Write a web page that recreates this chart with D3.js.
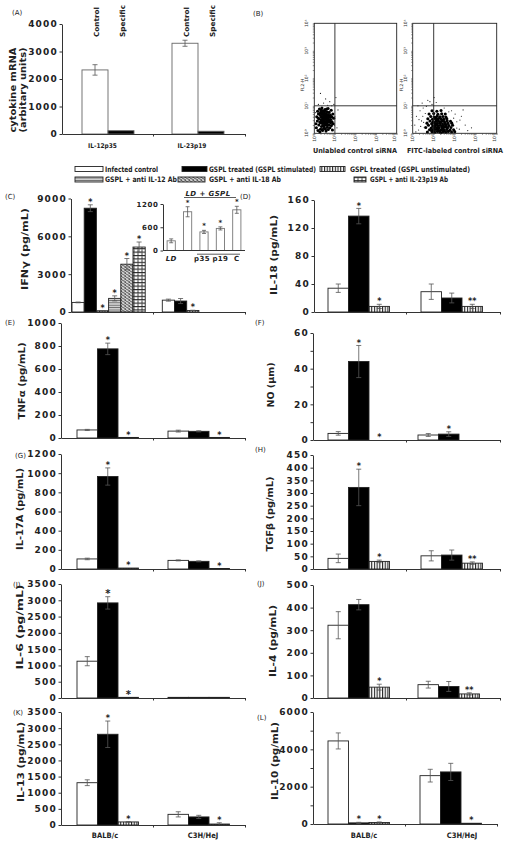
<!DOCTYPE html>
<html><head><meta charset="utf-8">
<script src="https://cdn.jsdelivr.net/npm/d3@7/dist/d3.min.js"></script>
<style>
html,body{margin:0;padding:0;background:#fff;}
svg{display:block;}
</style></head>
<body>
<svg id="fig" width="512" height="847" xmlns="http://www.w3.org/2000/svg"></svg>
<script>
// ================= DATA =================
const mrnaCategories = ["IL-12p35","IL-23p19"];
const mrnaSeries = ["Control","Specific"];
const mrnaValues = [[2330,120],[3300,100]];
const mrnaErrors = [[190,0],[110,0]];
const mrnaTicks = [0,1000,2000,3000,4000];

const flowLabels = ["Unlabled control siRNA","FITC-labeled control siRNA"];
const flowDecades = ["10⁰","10¹","10²","10³","10⁴"];
// [log10 FL1, log10 FL2] per event (dense population)
const flowUnlabeled = [
 [0.08,0.35],[0.10,0.20],[0.12,0.60],[0.15,0.45],[0.16,0.80],[0.18,0.10],[0.20,0.70],[0.22,0.30],[0.24,0.52],[0.25,0.88],
 [0.27,0.05],[0.28,0.40],[0.30,0.15],[0.30,0.65],[0.32,0.78],[0.33,0.48],[0.35,0.25],[0.35,0.58],[0.37,0.92],[0.38,0.70],
 [0.39,0.36],[0.40,0.10],[0.41,0.50],[0.42,0.62],[0.43,0.82],[0.44,0.28],[0.45,0.44],[0.46,0.56],[0.47,0.72],[0.48,0.18],
 [0.49,0.38],[0.50,0.64],[0.51,0.50],[0.52,0.86],[0.53,0.30],[0.54,0.58],[0.55,0.42],[0.56,0.70],[0.57,0.08],[0.58,0.52],
 [0.59,0.62],[0.60,0.34],[0.61,0.78],[0.62,0.46],[0.63,0.22],[0.64,0.56],[0.65,0.68],[0.66,0.40],[0.67,0.90],[0.68,0.14],
 [0.69,0.50],[0.70,0.62],[0.71,0.30],[0.72,0.76],[0.74,0.44],[0.75,0.58],[0.76,0.20],[0.78,0.66],[0.79,0.38],[0.80,0.50],
 [0.82,0.84],[0.83,0.28],[0.85,0.60],[0.86,0.42],[0.88,0.12],[0.90,0.70],[0.92,0.35],[0.94,0.55],
 [0.36,0.46],[0.44,0.54],[0.52,0.40],[0.58,0.60],[0.48,0.66],[0.62,0.52],[0.40,0.74],[0.56,0.32],[0.66,0.58],[0.46,0.26],
 [0.20,0.55],[0.26,0.72],[0.34,0.85],[0.50,0.78],[0.60,0.88],[0.70,0.42],[0.54,0.16],[0.38,0.14],[0.30,0.38],[0.64,0.30]
];
// sparse events
const flowUnlabeledSparse = [
 [0.20,1.05],[0.45,1.10],[0.55,1.25],[0.75,1.15],[0.95,1.05],[1.05,1.30],[0.30,1.45],[1.00,0.60],[1.10,0.20],[0.85,1.00],
 [0.65,1.02],[1.15,0.85],[0.05,0.75],[0.98,0.30]
];
const flowFitc = [
 [0.70,0.05],[0.92,0.06],[1.05,0.04],[1.18,0.07],[1.30,0.05],[1.45,0.06],[1.58,0.04],[1.70,0.07],[1.85,0.05],[2.00,0.06],
 [0.80,0.13],[0.98,0.11],[1.10,0.14],[1.22,0.12],[1.36,0.13],[1.50,0.11],[1.62,0.14],[1.78,0.12],[1.95,0.13],
 [0.62,0.21],[0.88,0.19],[1.02,0.22],[1.14,0.20],[1.26,0.21],[1.40,0.19],[1.52,0.22],[1.66,0.20],[1.82,0.21],
 [0.75,0.29],[0.95,0.27],[1.08,0.30],[1.20,0.28],[1.32,0.29],[1.46,0.27],[1.58,0.30],[1.72,0.28],[1.90,0.29],
 [0.68,0.37],[0.90,0.35],[1.04,0.38],[1.16,0.36],[1.28,0.37],[1.42,0.35],[1.55,0.38],[1.68,0.36],[1.86,0.37],
 [0.82,0.45],[0.98,0.43],[1.12,0.46],[1.24,0.44],[1.38,0.45],[1.50,0.43],[1.64,0.46],[1.80,0.44],
 [0.72,0.53],[0.94,0.51],[1.06,0.54],[1.20,0.52],[1.34,0.53],[1.48,0.51],[1.62,0.54],
 [0.86,0.61],[1.02,0.59],[1.16,0.62],[1.30,0.60],[1.44,0.61],[1.58,0.59],
 [0.78,0.70],[1.00,0.72],[1.20,0.69],[1.38,0.71],[1.55,0.70],
 [0.92,0.82],[1.15,0.80],[1.35,0.83],
 [1.00,0.16],[1.12,0.33],[1.25,0.09],[1.33,0.41],[1.44,0.17],[1.18,0.48],[1.06,0.26],[1.39,0.25],[1.28,0.56],[1.54,0.33],
 [0.96,0.40],[1.22,0.18],[1.48,0.09],[1.10,0.57],[1.35,0.02],[1.60,0.24],[0.90,0.10],[1.42,0.48]
];
const flowFitcSparse = [
 [0.10,0.30],[0.18,0.62],[0.28,0.12],[0.35,0.82],[0.42,0.45],[0.50,0.92],[0.55,0.22],[0.60,0.72],[0.45,1.10],[0.25,1.00],
 [0.72,1.20],[0.92,1.05],[1.02,1.30],[0.82,1.15],[1.50,0.92],[1.72,0.78],[2.10,0.42],[2.22,0.15],[2.32,0.62],[2.50,0.30],
 [2.62,0.10],[2.02,0.70],[1.95,0.55],[2.40,0.85],[0.15,0.05],[0.65,0.98],[1.12,1.12],[0.38,0.25],[0.48,0.62],[2.80,0.20],
 [2.10,0.19],[0.30,0.50],[0.52,0.40],[2.25,0.48],[1.85,0.82]
];

const strains = ["BALB/c","C3H/HeJ"];
const treatments = ["Infected control","GSPL treated (GSPL stimulated)","GSPL treated (GSPL unstimulated)",
                    "GSPL + anti IL-12 Ab","GSPL + anti IL-18 Ab","GSPL + anti IL-23p19 Ab"];

const ifngValues = [[760,8230,100,1080,3790,5150],[940,870,120]];
const ifngErrors = [[30,270,20,200,450,400],[80,200,20]];
const ifngStars  = [["","*","*","*","*","*"],["","","*"]];
const ifngTicks  = [0,3000,6000,9000];

const insetCategories = ["LD","LD + GSPL","p35","p19","C"];
const insetLabels = ["LD","","p35","p19","C"];
const insetValues = [250,1000,480,570,1050];
const insetErrors = [50,130,40,40,90];
const insetStars  = ["","*","*","*","*"];
const insetTicks  = [0,600,1200];

const il18Values = [[34,137,8],[29,20,8]];
const il18Errors = [[6,11,3],[11,7,3]];
const il18Stars  = [["","*","*"],["","","**"]];
const il18Ticks  = [0,40,80,120,160];

const tnfValues = [[70,775,5],[60,58,5]];
const tnfErrors = [[5,50,0],[8,5,0]];
const tnfStars  = [["","*","*"],["","","*"]];
const tnfTicks  = [0,200,400,600,800,1000];

const noValues = [[3.7,44,0],[2.8,3.3,null]];
const noErrors = [[1,9,0],[0.8,1.3,0]];
const noStars  = [["","*","*"],["","*",""]];
const noTicks  = [0,20,40,60];

const il17Values = [[105,965,10],[90,80,5]];
const il17Errors = [[8,90,0],[5,5,0]];
const il17Stars  = [["","*","*"],["","","*"]];
const il17Ticks  = [0,200,400,600,800,1000,1200];

const tgfValues = [[42,322,30],[52,55,23]];
const tgfErrors = [[17,72,5],[20,20,5]];
const tgfStars  = [["","*","*"],["","","**"]];
const tgfTicks  = [0,50,100,150,200,250,300,350,400,450];

const il6Values = [[1130,2920,20],[20,20,20]];
const il6Errors = [[140,190,0],[0,0,0]];
const il6Stars  = [["","*","*"],["","",""]];
const il6Ticks  = [0,500,1000,1500,2000,2500,3000,3500];

const il4Values = [[322,413,48],[59,51,18]];
const il4Errors = [[60,23,13],[15,22,5]];
const il4Stars  = [["","","*"],["","","**"]];
const il4Ticks  = [0,100,200,300,400,500];

const il13Values = [[1310,2810,95],[330,250,30]];
const il13Errors = [[90,410,10],[80,50,40]];
const il13Stars  = [["","*","*"],["","","*"]];
const il13Ticks  = [0,500,1000,1500,2000,2500,3000,3500];

const il10Values = [[4450,60,80],[2590,2790,40]];
const il10Errors = [[430,30,30],[340,460,0]];
const il10Stars  = [["","*","*"],["","","*"]];
const il10Ticks  = [0,2000,4000,6000];

// ================= DRAWING =================
const svg = d3.select("#fig");
const FONT = "'DejaVu Sans', Verdana, sans-serif";
const NARROW = "'Liberation Sans Narrow','DejaVu Sans Condensed','Liberation Sans', Arial, sans-serif";
const defs = svg.append("defs");
function pattern(id, w, h, draw){
  const p = defs.append("pattern").attr("id",id).attr("patternUnits","userSpaceOnUse").attr("width",w).attr("height",h);
  draw(p, w, h);
}
pattern("vstripe",2.7,4,(p,w,h)=>{
  p.append("rect").attr("width",w).attr("height",h).attr("fill","#fff");
  p.append("rect").attr("width",1.1).attr("height",h).attr("fill","#222");
});
pattern("hgray",4,2.4,(p,w,h)=>{
  p.append("rect").attr("width",w).attr("height",h).attr("fill","#cfcfcf");
  p.append("rect").attr("width",w).attr("height",0.8).attr("fill","#666");
});
pattern("diag",4,3,(p,w,h)=>{
  p.append("rect").attr("width",w).attr("height",h).attr("fill","#fff");
  p.append("path").attr("d","M0,3 L4,1 M0,1.2 L4,-0.8 M0,4.8 L4,2.8").attr("stroke","#222").attr("stroke-width",0.8);
});
pattern("cross",4,3.4,(p,w,h)=>{
  p.append("rect").attr("width",w).attr("height",h).attr("fill","#fff");
  p.append("rect").attr("y",0).attr("width",w).attr("height",1.1).attr("fill","#222");
  p.append("rect").attr("x",1.5).attr("y",1.1).attr("width",1).attr("height",2.3).attr("fill","#444");
});
const fills = ["#fff","#000","url(#vstripe)","url(#hgray)","url(#diag)","url(#cross)"];

function styleAxis(sel, size, spacing){
  sel.attr("font-family",null).attr("font-size",null);
  sel.selectAll("text").attr("font-family",FONT).attr("font-weight","bold")
     .attr("font-size",size).attr("letter-spacing",spacing).attr("fill","#222");
  sel.selectAll("line").attr("stroke","#333");
  sel.select(".domain").attr("stroke","#333");
}
function panelLabel(txt, x, y){
  svg.append("text").attr("x",x).attr("y",y).attr("font-family",FONT).attr("font-size",7)
    .attr("fill","#222").text(txt);
}
function rotText(txt, cx, cy, size, len){
  return svg.append("text").attr("transform",`translate(${cx},${cy}) rotate(-90)`)
    .attr("text-anchor","middle").attr("dominant-baseline","central")
    .attr("font-family",FONT).attr("font-weight","bold").attr("font-size",size).attr("fill","#222")
    .attr("textLength",len).attr("lengthAdjust","spacingAndGlyphs").text(txt);
}

function barPanel(p){
  const g = svg.append("g");
  const y = d3.scaleLinear().domain([0,p.max]).range([p.y0,p.yTop]);
  const x = d3.scaleLinear().domain([0,1,2]).range([p.x0,p.xMid,p.x1]);
  const nSeries = p.fills ? p.fills.length : 6;
  const sub = d3.scaleBand().domain(d3.range(nSeries)).range([0,nSeries*p.barW]);
  const fl = p.fills || fills;
  p.values.forEach((vals,gi)=>{
    const gx = x(gi)+p.offsets[gi];
    const data = vals.map((v,i)=>({v,i,e:p.errors[gi][i],s:p.stars?p.stars[gi][i]:""})).filter(d=>d.v!=null);
    const gg = g.append("g").attr("transform",`translate(${gx},0)`);
    gg.selectAll("rect").data(data).join("rect")
      .attr("x",d=>sub(d.i)).attr("width",sub.bandwidth())
      .attr("y",d=>y(d.v)).attr("height",d=>p.y0-y(d.v))
      .attr("fill",d=>fl[d.i]).attr("stroke",p.barStroke||"#222").attr("stroke-width",0.9);
    const cx = d=>sub(d.i)+sub.bandwidth()/2;
    const eb = data.filter(d=>d.e>0);
    gg.selectAll("line.ev").data(eb).join("line").attr("class","ev")
      .attr("x1",cx).attr("x2",cx).attr("y1",d=>y(Math.max(0,d.v-d.e))).attr("y2",d=>y(d.v+d.e))
      .attr("stroke","#555").attr("stroke-width",0.8);
    gg.selectAll("line.et").data(eb).join("line").attr("class","et")
      .attr("x1",d=>cx(d)-2.5).attr("x2",d=>cx(d)+2.5).attr("y1",d=>y(d.v+d.e)).attr("y2",d=>y(d.v+d.e))
      .attr("stroke","#555").attr("stroke-width",0.8);
    gg.selectAll("line.eb").data(eb.filter(d=>d.v-d.e>0)).join("line").attr("class","eb")
      .attr("x1",d=>cx(d)-2.5).attr("x2",d=>cx(d)+2.5).attr("y1",d=>y(d.v-d.e)).attr("y2",d=>y(d.v-d.e))
      .attr("stroke","#555").attr("stroke-width",0.8);
    gg.selectAll("text.star").data(data.filter(d=>d.s)).join("text").attr("class","star")
      .attr("x",cx).attr("y",d=>y(d.v+d.e)+ (p.starSize||8)*0.2 - 1.5)
      .attr("text-anchor","middle").attr("font-family",FONT).attr("font-weight","bold")
      .attr("font-size",p.starSize||8).attr("fill","#222").text(d=>d.s);
  });
  const ya = g.append("g").attr("transform",`translate(${p.x0},0)`)
    .call(d3.axisLeft(y).tickValues(p.ticks).tickSize(2.5).tickSizeOuter(0).tickPadding(p.tickPad||1.5).tickFormat(d=>d));
  styleAxis(ya, p.tickFont||9, p.tickSpacing!=null?p.tickSpacing:1.2);
  if (p.minor){
    g.append("g").attr("transform",`translate(${p.x0},0)`)
      .call(d3.axisLeft(y).tickValues(p.minor).tickSize(2.5).tickFormat(""))
      .call(s=>{s.select(".domain").remove(); s.selectAll("line").attr("stroke","#333");});
  }
  const xa = g.append("g").attr("transform",`translate(0,${p.y0})`)
    .call(d3.axisBottom(x).tickValues([1,2]).tickSize(2.5).tickSizeOuter(0).tickFormat(""));
  styleAxis(xa, 8, 0);
  if (p.catLabels){
    g.selectAll("text.cat").data(p.catLabels).join("text").attr("class","cat")
      .attr("x",(d,i)=>x(i+0.5)+(p.catShift?p.catShift[i]:0)).attr("y",p.y0+(p.catDy||14))
      .attr("text-anchor","middle").attr("font-family",NARROW).attr("font-weight","bold")
      .attr("font-size",p.catFont||7.5).attr("fill","#222").text(d=>d);
  }
  if (p.title) rotText(p.title, p.titleX, p.titleY, 9, p.titleLen);
  return {x,y,sub};
}

// ---------- Panel A ----------
panelLabel("(A)", 12, 15);
const pA = barPanel({values:mrnaValues, errors:mrnaErrors, stars:null, max:4000, ticks:mrnaTicks,
  x0:62, xMid:153, x1:245, y0:134, yTop:24, barW:26, offsets:[20,19], fills:["#fff","#000"], barStroke:"#666",
  catLabels:mrnaCategories, catShift:[-5,-7], catDy:14, catFont:6.5});
mrnaCategories.forEach((c,gi)=>{
  mrnaSeries.forEach((s,si)=>{
    const cx = pA.x(gi)+[20,19][gi]+pA.sub(si)+pA.sub.bandwidth()/2+2;
    svg.append("text").attr("transform",`translate(${cx},37) rotate(-90)`)
      .attr("dominant-baseline","central").attr("font-family",FONT).attr("font-weight","bold")
      .attr("font-size",7).attr("fill","#222")
      .attr("textLength",s==="Control"?30:32).attr("lengthAdjust","spacingAndGlyphs").text(s);
  });
});
rotText("cytokine mRNA", 13, 90, 9, 85);
rotText("(arbitary units)", 22.5, 90, 9, 85);

// ---------- Panel B (flow cytometry) ----------
panelLabel("(B)", 253, 16);
function flowPlot(points, sparse, x0, x1, label, labelX, labelLen){
  const g = svg.append("g");
  const x = d3.scaleLog().domain([1,1e4]).range([x0,x1]);
  const y = d3.scaleLog().domain([1,1e4]).range([133.3,23.3]);
  g.selectAll("circle.core").data(points).join("circle").attr("class","core")
    .attr("cx",d=>x(Math.pow(10,d[0]))).attr("cy",d=>y(Math.pow(10,d[1])))
    .attr("r",1.55).attr("fill","#000");
  g.selectAll("circle.sp").data(sparse).join("circle").attr("class","sp")
    .attr("cx",d=>x(Math.pow(10,d[0]))).attr("cy",d=>y(Math.pow(10,d[1])))
    .attr("r",0.6).attr("fill","#222");
  g.append("rect").attr("x",x0).attr("y",23.3).attr("width",x1-x0).attr("height",110)
    .attr("fill","none").attr("stroke","#222").attr("stroke-width",0.9);
  g.append("line").attr("x1",x(10)).attr("x2",x(10)).attr("y1",23.3).attr("y2",133.3).attr("stroke","#222").attr("stroke-width",0.9);
  g.append("line").attr("x1",x0).attr("x2",x1).attr("y1",y(10)).attr("y2",y(10)).attr("stroke","#222").attr("stroke-width",0.9);
  const minor = [];
  for (let e=0;e<4;e++) for (let k=1;k<10;k++) minor.push(k*Math.pow(10,e));
  minor.push(1e4);
  g.append("g").attr("transform",`translate(${x0},0)`).call(d3.axisLeft(y).tickValues(minor).tickSize(1.5).tickFormat(""))
    .call(s=>{s.select(".domain").remove(); s.selectAll("line").attr("stroke","#444").attr("stroke-width",0.6);});
  g.append("g").attr("transform",`translate(0,133.3)`).call(d3.axisBottom(x).tickValues(minor).tickSize(1.5).tickFormat(""))
    .call(s=>{s.select(".domain").remove(); s.selectAll("line").attr("stroke","#444").attr("stroke-width",0.6);});
  const dec = [1,10,100,1000,10000];
  g.selectAll("text.yl").data(dec).join("text").attr("class","yl")
    .attr("transform",d=>`translate(${x0-6},${y(d)}) rotate(-90)`).attr("text-anchor","middle")
    .attr("font-family",FONT).attr("font-size",4.5).attr("fill","#333").text((d,i)=>flowDecades[i]);
  g.selectAll("text.xl").data(dec).join("text").attr("class","xl")
    .attr("transform",d=>`translate(${Math.min(x(d)+1.5,x1-1)},${138}) rotate(-90)`).attr("text-anchor","middle")
    .attr("font-family",FONT).attr("font-size",4.5).attr("fill","#333").text((d,i)=>flowDecades[i]);
  g.append("text").attr("transform",`translate(${x0-10},85) rotate(-90)`).attr("text-anchor","middle")
    .attr("font-family",FONT).attr("font-size",4.5).attr("fill","#333").text("FL2-H");
  g.append("text").attr("x",labelX).attr("y",153).attr("text-anchor","middle")
    .attr("font-family",NARROW).attr("font-weight","bold").attr("font-size",7).attr("fill","#222")
    .attr("textLength",labelLen).attr("lengthAdjust","spacingAndGlyphs").text(label);
}
flowPlot(flowUnlabeled, flowUnlabeledSparse, 314.3, 396.7, flowLabels[0], 355, 84);
flowPlot(flowFitc, flowFitcSparse, 412.7, 496.7, flowLabels[1], 455, 96);

// ---------- Legend ----------
const legendLayout = [
  {x:75,y:166.5,w:28,tx:105,tl:53},{x:182,y:166.5,w:25,tx:209,tl:107},{x:320,y:166.5,w:25,tx:350,tl:120},
  {x:75,y:177,w:28,tx:105,tl:72},{x:178,y:177,w:27,tx:209,tl:72},{x:354,y:177,w:12,tx:370,tl:78}
];
const lg = svg.append("g");
lg.selectAll("rect").data(treatments).join("rect")
  .attr("x",(d,i)=>legendLayout[i].x).attr("y",(d,i)=>legendLayout[i].y)
  .attr("width",(d,i)=>legendLayout[i].w).attr("height",5)
  .attr("fill",(d,i)=>fills[i]).attr("stroke","#222").attr("stroke-width",0.9);
lg.selectAll("text").data(treatments).join("text")
  .attr("x",(d,i)=>legendLayout[i].tx).attr("y",(d,i)=>legendLayout[i].y+5.3)
  .attr("font-family",NARROW).attr("font-weight","bold").attr("font-size",7.5).attr("fill","#222")
  .attr("textLength",(d,i)=>legendLayout[i].tl).attr("lengthAdjust","spacingAndGlyphs").text(d=>d);

// ---------- Cytokine panels ----------
const L = {x0:61,xMid:153,x1:245,barW:20.5};
const R = {x0:313,xMid:406,x1:500,barW:20.5};
panelLabel("(C)", 5, 199);
barPanel({values:ifngValues, errors:ifngErrors, stars:ifngStars, max:9000, ticks:ifngTicks,
  x0:71, xMid:153, x1:245, y0:312, yTop:198.5, barW:12.2, offsets:[1,9.3],
  title:"IFNγ (pg/mL)", titleX:25, titleY:249, titleLen:82});
(function(){
  const g = svg.append("g");
  const x = d3.scaleBand().domain(insetCategories).range([163,245]).paddingInner(0.5).paddingOuter(0.25);
  const y = d3.scaleLinear().domain([0,1200]).range([250.5,204]);
  const data = insetCategories.map((c,i)=>({c,v:insetValues[i],e:insetErrors[i],s:insetStars[i],l:insetLabels[i]}));
  g.selectAll("rect").data(data).join("rect").attr("x",d=>x(d.c)).attr("width",x.bandwidth())
    .attr("y",d=>y(d.v)).attr("height",d=>250.5-y(d.v)).attr("fill","#fff").attr("stroke","#777").attr("stroke-width",0.9);
  const cx = d=>x(d.c)+x.bandwidth()/2;
  g.selectAll("line.ev").data(data).join("line").attr("class","ev").attr("x1",cx).attr("x2",cx)
    .attr("y1",d=>y(d.v-d.e)).attr("y2",d=>y(d.v+d.e)).attr("stroke","#555").attr("stroke-width",0.8);
  g.selectAll("line.et").data(data).join("line").attr("class","et").attr("x1",d=>cx(d)-2).attr("x2",d=>cx(d)+2)
    .attr("y1",d=>y(d.v+d.e)).attr("y2",d=>y(d.v+d.e)).attr("stroke","#555").attr("stroke-width",0.8);
  g.selectAll("line.eb").data(data).join("line").attr("class","eb").attr("x1",d=>cx(d)-2).attr("x2",d=>cx(d)+2)
    .attr("y1",d=>y(d.v-d.e)).attr("y2",d=>y(d.v-d.e)).attr("stroke","#555").attr("stroke-width",0.8);
  g.selectAll("text.star").data(data.filter(d=>d.s)).join("text").attr("class","star")
    .attr("x",cx).attr("y",d=>Math.max(y(d.v+d.e)-2,201.5)).attr("text-anchor","middle")
    .attr("font-family",FONT).attr("font-weight","bold").attr("font-size",7).attr("fill","#222").text(d=>d.s);
  const ya = g.append("g").attr("transform","translate(163,0)")
    .call(d3.axisLeft(y).tickValues(insetTicks).tickSize(2.5).tickSizeOuter(0).tickPadding(2).tickFormat(d=>d));
  styleAxis(ya, 7, 0.6);
  g.append("line").attr("x1",163).attr("x2",245).attr("y1",250.5).attr("y2",250.5).attr("stroke","#333");
  g.append("line").attr("x1",197).attr("x2",240).attr("y1",254.2).attr("y2",254.2).attr("stroke","#333").attr("stroke-width",0.8);
  g.selectAll("text.lab").data(data.filter(d=>d.l)).join("text").attr("class","lab")
    .attr("x",d=>cx(d)+(d.l==="p35"?-2:0)).attr("y",261).attr("text-anchor","middle")
    .attr("font-family",FONT).attr("font-weight","bold").attr("font-size",7)
    .attr("font-style",d=>d.l==="LD"?"italic":"normal").attr("letter-spacing",0.4).attr("fill","#222").text(d=>d.l);
  g.append("text").attr("x",208).attr("y",195.5).attr("text-anchor","middle").attr("font-family",FONT)
    .attr("font-weight","bold").attr("font-style","italic").attr("font-size",7).attr("letter-spacing",0.4)
    .attr("fill","#222").text(insetCategories[1]);
  g.append("line").attr("x1",184).attr("x2",236).attr("y1",197.5).attr("y2",197.5).attr("stroke","#333").attr("stroke-width",0.8);
})();

panelLabel("(D)", 240, 199);
barPanel({...R, values:il18Values, errors:il18Errors, stars:il18Stars, max:160, ticks:il18Ticks,
  x0:314, y0:312, yTop:200, offsets:[14,15], title:"IL-18 (pg/mL)", titleX:274, titleY:255, titleLen:80});

panelLabel("(E)", 5, 325);
barPanel({...L, values:tnfValues, errors:tnfErrors, stars:tnfStars, max:1000, ticks:tnfTicks,
  y0:438, yTop:323, offsets:[16,15], title:"TNFα (pg/mL)", titleX:22, titleY:381, titleLen:77});

panelLabel("(F)", 255, 325);
barPanel({...R, values:noValues, errors:noErrors, stars:noStars, max:60, ticks:noTicks, minor:[10,30,50],
  y0:440, yTop:333, offsets:[15,12], title:"NO (μm)", titleX:271, titleY:385, titleLen:45});

panelLabel("(G)", 15, 458);
barPanel({...L, values:il17Values, errors:il17Errors, stars:il17Stars, max:1200, ticks:il17Ticks,
  y0:569, yTop:454, offsets:[16,15], title:"IL-17A (pg/mL)", titleX:20, titleY:509, titleLen:82});

panelLabel("(H)", 255, 452);
barPanel({...R, values:tgfValues, errors:tgfErrors, stars:tgfStars, max:450, ticks:tgfTicks,
  y0:569, yTop:455, offsets:[15,15], title:"TGFβ (pg/mL)", titleX:270, titleY:514, titleLen:75});

panelLabel("(I)", 13, 587);
barPanel({...L, values:il6Values, errors:il6Errors, stars:il6Stars, max:3500, ticks:il6Ticks,
  y0:698, yTop:584, offsets:[16,15], starSize:10, title:"IL-6 (pg/mL)", titleX:20, titleY:627, titleLen:85});

panelLabel("(J)", 257, 586);
barPanel({...R, values:il4Values, errors:il4Errors, stars:il4Stars, max:500, ticks:il4Ticks,
  y0:698, yTop:585, offsets:[15,12], title:"IL-4 (pg/mL)", titleX:273, titleY:641, titleLen:72});

panelLabel("(K)", 13, 715);
barPanel({...L, values:il13Values, errors:il13Errors, stars:il13Stars, max:3500, ticks:il13Ticks,
  y0:825, yTop:712, offsets:[16,15], title:"IL-13 (pg/mL)", titleX:21, titleY:762, titleLen:80,
  catLabels:strains, catShift:[-2,4], catDy:13});

panelLabel("(L)", 257, 720);
barPanel({...R, x1:497, xMid:405, values:il10Values, errors:il10Errors, stars:il10Stars, max:6000, ticks:il10Ticks,
  minor:[1000,3000,5000], y0:824, yTop:712, offsets:[15,15], title:"IL-10 (pg/mL)", titleX:275, titleY:761, titleLen:78,
  catLabels:strains, catShift:[5,11], catDy:14});
</script>
</body></html>
